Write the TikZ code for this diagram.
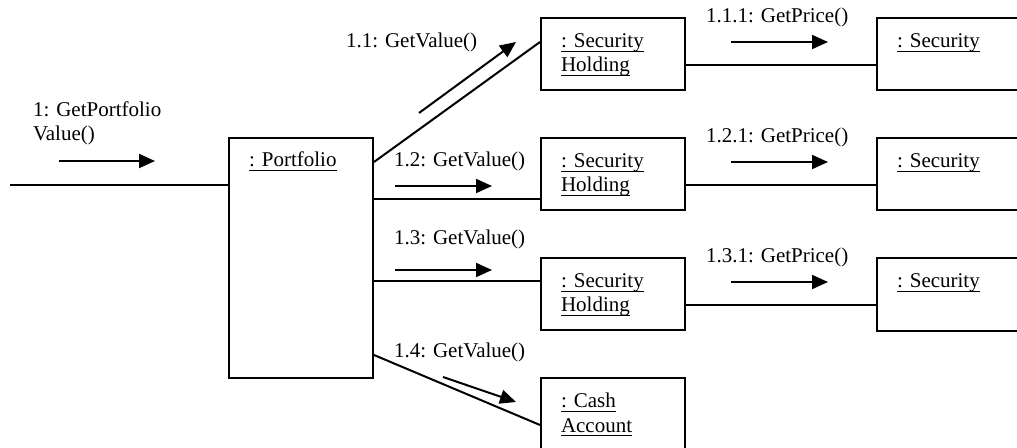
\documentclass[tikz,border=0pt]{standalone}
\usepackage{fontspec}
\setmainfont{Liberation Serif}
\usetikzlibrary{arrows.meta,calc}
% underline at a fixed depth below the baseline, crossing descenders
\newcommand{\objul}[1]{\sbox0{#1}\rlap{\rule[-2.1pt]{\wd0}{0.55pt}}\usebox0}
\begin{document}
\begin{tikzpicture}[x=0.5pt,y=-0.5pt,line width=1pt,
  obj/.style={draw,line width=1pt,anchor=north west,inner sep=0pt,minimum width=72pt,minimum height=36pt},
  txt/.style={anchor=base west,inner sep=0pt,font=\fontsize{10.5}{12.5}\selectfont},
  msg/.style={-{Triangle[length=8pt,width=7pt]},line width=1pt},
  link/.style={line width=1pt}]
\useasboundingbox (0,0) rectangle (1017,448);
\clip (0,0) rectangle (1017,448);
\fill[white] (0,0) rectangle (1017,448);

% objects
\node[obj,minimum height=120pt] (p) at (228,137) {};
\node[obj] (sh1) at (540,17) {};
\node[obj] (sh2) at (540,137) {};
\node[obj] (sh3) at (540,257) {};
\node[obj,minimum height=44pt] (cash) at (540,377) {};
\node[obj,minimum width=90pt] (s1) at (876,17) {};
\node[obj,minimum width=90pt] (s2) at (876,137) {};
\node[obj,minimum width=90pt,minimum height=36.5pt] (s3) at (876,257) {};

% object names
\node[txt] (pt) at (248,167) {\objul{: Portfolio}};
\node[txt] (sh1a) at (560,48) {\objul{: Security}};
\node[txt] (sh1b) at (560,72) {\objul{Holding}};
\node[txt] (sh2a) at (560,168) {\objul{: Security}};
\node[txt] (sh2b) at (560,192) {\objul{Holding}};
\node[txt] (sh3a) at (560,288) {\objul{: Security}};
\node[txt] (sh3b) at (560,312) {\objul{Holding}};
\node[txt] (casha) at (560,408) {\objul{: Cash}};
\node[txt] (cashb) at (560,432) {\objul{Account}};
\node[txt] (s1t) at (896,48) {\objul{: Security}};
\node[txt] (s2t) at (896,168) {\objul{: Security}};
\node[txt] (s3t) at (896,288) {\objul{: Security}};

% links
\coordinate (in) at (10,185);
\draw[link] (in) -- (p.west |- in);
\draw[link] ($(p.north east)+(0,25)$) -- ($(sh1.north west)+(0,25)$);
\coordinate (a2) at ($(sh2.north west)+(0,62)$);
\draw[link] (a2 -| p.east) -- (a2);
\coordinate (a3) at ($(sh3.north west)+(0,24)$);
\draw[link] (a3 -| p.east) -- (a3);
\draw[link] ($(p.south east)+(0,-24)$) -- ($(cash.north west)+(0,48)$);
\coordinate (b1) at ($(sh1.north east)+(0,48)$);
\draw[link] (b1) -- (b1 -| s1.west);
\coordinate (b2) at ($(sh2.north east)+(0,48)$);
\draw[link] (b2) -- (b2 -| s2.west);
\coordinate (b3) at ($(sh3.north east)+(0,48)$);
\draw[link] (b3) -- (b3 -| s3.west);

% messages
\node[txt] (l1a) at (32,117) {1: GetPortfolio};
\node[txt] (l1b) at (32,141) {Value()};
\coordinate (m1s) at (59,161); \coordinate (m1e) at (155,161);
\draw[msg] (m1s) -- (m1e);

\node[txt] (l11) at (345,48) {1.1: GetValue()};
\coordinate (m11s) at (419,113); \coordinate (m11e) at (516,42);
\draw[msg] (m11s) -- (m11e);

\node[txt] (l12) at (393,167) {1.2: GetValue()};
\coordinate (m12s) at (395,186); \coordinate (m12e) at (492,186);
\draw[msg] (m12s) -- (m12e);

\node[txt] (l13) at (393,245) {1.3: GetValue()};
\coordinate (m13s) at (395,270); \coordinate (m13e) at (492,270);
\draw[msg] (m13s) -- (m13e);

\node[txt] (l14) at (393,358) {1.4: GetValue()};
\coordinate (m14s) at (443,377); \coordinate (m14e) at (516,402);
\draw[msg] (m14s) -- (m14e);

\node[txt] (l111) at (705,23) {1.1.1: GetPrice()};
\coordinate (m111s) at (731,42); \coordinate (m111e) at (828,42);
\draw[msg] (m111s) -- (m111e);

\node[txt] (l121) at (705,143) {1.2.1: GetPrice()};
\coordinate (m121s) at (731,162); \coordinate (m121e) at (828,162);
\draw[msg] (m121s) -- (m121e);

\node[txt] (l131) at (705,263) {1.3.1: GetPrice()};
\coordinate (m131s) at (731,282); \coordinate (m131e) at (828,282);
\draw[msg] (m131s) -- (m131e);
\end{tikzpicture}
\end{document}
